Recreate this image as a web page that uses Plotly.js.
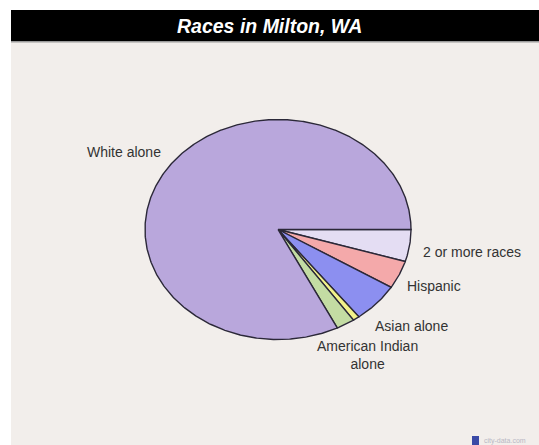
<!DOCTYPE html>
<html>
<head>
<meta charset="utf-8">
<script src="https://cdn.plot.ly/plotly-3.0.1.min.js"></script>
<style>
  html, body { margin: 0; padding: 0; background: #ffffff; }
  #chart { width: 539px; height: 445px; }
</style>
</head>
<body>
<div id="chart"></div>
<script>
// ---- data ----
const categories = ["2 or more races", "Hispanic", "Asian alone",
  "Native Hawaiian and Other Pacific Islander alone", "American Indian alone", "White alone"];
const values = [4.7, 4.1, 5.8, 0.8, 2.25, 82.35];
const labelTexts = ["2 or more races", "Hispanic", "Asian alone", "", "American Indian<br>alone", "White alone"];
const colors = ["#e4ddf3", "#f4a9aa", "#8c8ff0", "#f2f28a", "#c3dca3", "#b9a7dc"];

// ---- layout constants (pixel space) ----
const W = 539, H = 445;
const cx = 278, cy = 229.5, rx = 133, ry = 110;

const total = values.reduce((a, b) => a + b, 0);
const traces = [];
let start = 0;
values.forEach((v, i) => {
  const a0 = start / total * 2 * Math.PI;
  const a1 = (start + v) / total * 2 * Math.PI;
  start += v;
  const xs = [cx], ys = [cy];
  const n = Math.max(2, Math.ceil((a1 - a0) / (Math.PI / 360)));
  for (let k = 0; k <= n; k++) {
    const a = a0 + (a1 - a0) * k / n;
    xs.push(cx + rx * Math.cos(a));
    ys.push(cy + ry * Math.sin(a));
  }
  xs.push(cx); ys.push(cy);
  traces.push({
    type: "scatter", mode: "lines", x: xs, y: ys, fill: "toself",
    fillcolor: colors[i], line: { color: "#2b2838", width: 1.4 },
    name: categories[i], hoverinfo: "skip", showlegend: false
  });
});

const font = { family: "Liberation Sans, Arial, sans-serif", size: 14, color: "#333333" };
const labelPos = [
  { x: 420.5, y: 252, xanchor: "left" },
  { x: 404.5, y: 286, xanchor: "left" },
  { x: 372.5, y: 325.5, xanchor: "left" },
  null,
  { x: 367, y: 354.5, xanchor: "center" },
  { x: 162.5, y: 152, xanchor: "right" }
];
const annotations = [];
labelTexts.forEach((t, i) => {
  if (!t || !labelPos[i]) return;
  annotations.push({
    x: labelPos[i].x, y: labelPos[i].y, xref: "x", yref: "y",
    text: t, showarrow: false, xanchor: labelPos[i].xanchor, yanchor: "middle",
    font: font, align: "center"
  });
});
annotations.push({
  x: 269.5, y: 26, xref: "x", yref: "y", text: "<b><i>Races in Milton, WA</i></b>",
  showarrow: false, xanchor: "center", yanchor: "middle",
  font: { family: "Liberation Sans, Arial, sans-serif", size: 19.5, color: "#ffffff" }
});
annotations.push({
  x: 482, y: 441, xref: "x", yref: "y", text: "city-data.com",
  showarrow: false, xanchor: "left", yanchor: "middle",
  font: { family: "Liberation Sans, Arial, sans-serif", size: 7, color: "#b8b8c4" }
});

const shapes = [
  { type: "rect", xref: "x", yref: "y", x0: 11, x1: W, y0: 10, y1: H, fillcolor: "#f2eeeb", line: { width: 0 }, layer: "below" },
  { type: "rect", xref: "x", yref: "y", x0: 11, x1: W, y0: 10, y1: 41, fillcolor: "#000000", line: { width: 0 }, layer: "below" },
  { type: "rect", xref: "x", yref: "y", x0: 11, x1: W, y0: 41, y1: 42.5, fillcolor: "#9a9a9a", line: { width: 0 }, layer: "below" },
  { type: "rect", xref: "x", yref: "y", x0: 472, x1: 479, y0: 436, y1: 445, fillcolor: "#3b4aa6", line: { width: 0 }, layer: "below" }
];

const layout = {
  width: W, height: H,
  margin: { l: 0, r: 0, t: 0, b: 0, pad: 0 },
  paper_bgcolor: "#ffffff", plot_bgcolor: "rgba(0,0,0,0)",
  xaxis: { range: [0, W], visible: false, fixedrange: true, domain: [0, 1] },
  yaxis: { range: [H, 0], visible: false, fixedrange: true, domain: [0, 1] },
  showlegend: false, hovermode: false,
  shapes: shapes, annotations: annotations
};

Plotly.newPlot("chart", traces, layout, { staticPlot: true, displayModeBar: false });
</script>
</body>
</html>
